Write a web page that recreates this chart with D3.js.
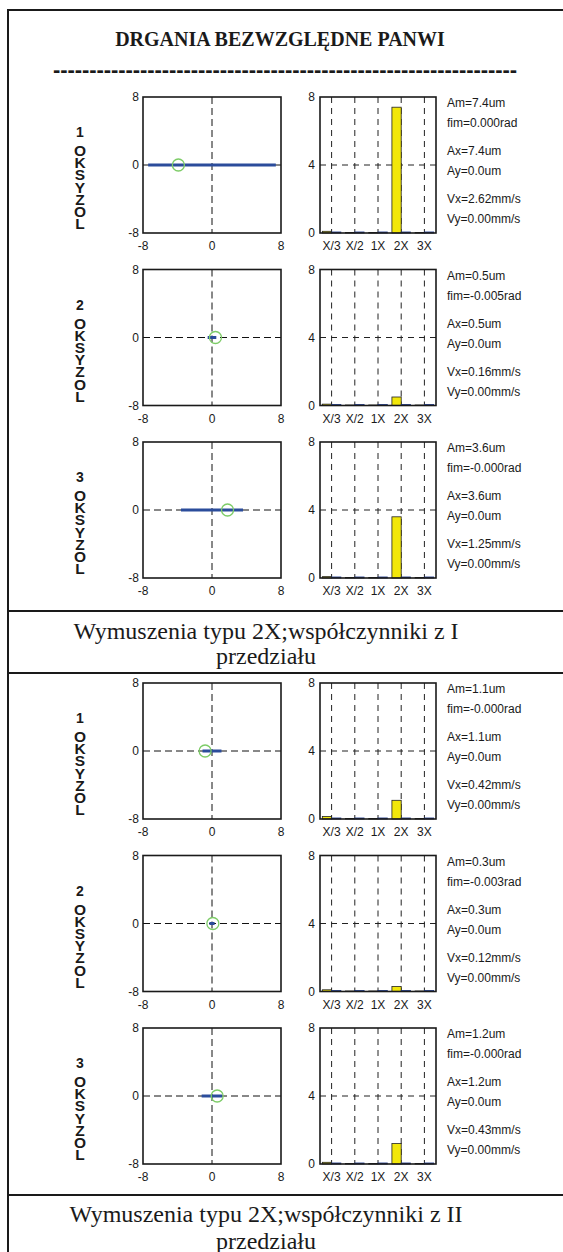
<!DOCTYPE html>
<html>
<head>
<meta charset="utf-8">
<script src="https://cdn.jsdelivr.net/npm/d3@7"></script>
<style>
  body { margin: 0; background: #fff; }
  svg { display: block; }
</style>
</head>
<body>
<script>
// ---------------- DATA ----------------
const title = "DRGANIA BEZWZGLĘDNE PANWI";
const rowNumbers = ["1", "2", "3"];
const labelWord = "OKSYZOL";
const harmonics = ["X/3", "X/2", "1X", "2X", "3X"];
const scatterTicks = [-8, 0, 8];
const barTicks = [0, 4, 8];
const captions = [
  ["Wymuszenia typu 2X;współczynniki z I", "przedziału"],
  ["Wymuszenia typu 2X;współczynniki z II", "przedziału"]
];
// one entry per panel row (section 1 rows 1-3, section 2 rows 1-3)
const orbitAx = [7.4, 0.5, 3.6, 1.1, 0.3, 1.2];
const orbitAy = [0.0, 0.0, 0.0, 0.0, 0.0, 0.0];
const markerX = [-3.9, 0.4, 1.8, -0.8, 0.1, 0.6];
const markerY = [0.0, 0.0, 0.0, 0.0, 0.0, 0.0];
const barXAmp = [
  [0.10, 0.03, 0.03, 7.4, 0.03],
  [0.08, 0.03, 0.03, 0.5, 0.03],
  [0.08, 0.03, 0.03, 3.6, 0.03],
  [0.15, 0.03, 0.03, 1.1, 0.03],
  [0.10, 0.03, 0.03, 0.3, 0.03],
  [0.10, 0.03, 0.03, 1.2, 0.03]
];
const barYAmp = [
  [0.06, 0.06, 0.06, 0.06, 0.06],
  [0.06, 0.06, 0.06, 0.06, 0.06],
  [0.06, 0.06, 0.06, 0.06, 0.06],
  [0.06, 0.06, 0.06, 0.06, 0.06],
  [0.06, 0.06, 0.06, 0.06, 0.06],
  [0.06, 0.06, 0.06, 0.06, 0.06]
];
const amText = ["7.4", "0.5", "3.6", "1.1", "0.3", "1.2"];
const fimText = ["0.000", "-0.005", "-0.000", "-0.000", "-0.003", "-0.000"];
const axText = ["7.4", "0.5", "3.6", "1.1", "0.3", "1.2"];
const ayText = ["0.0", "0.0", "0.0", "0.0", "0.0", "0.0"];
const vxText = ["2.62", "0.16", "1.25", "0.42", "0.12", "0.43"];
const vyText = ["0.00", "0.00", "0.00", "0.00", "0.00", "0.00"];

// ---------------- LAYOUT ----------------
const W = 563, H = 1252;
const sectionTops = [97, 683];
const rowPitch = 172.5;
const boxH = 136;
const scL = 143, scW = 138;
const brL = 320, brW = 116;
const txtX = 447;
const labelX = 80;
const letterPitch = 12.2;
const captionX = 266;
const captionBase = [[639, 664], [1222, 1249]];
const separators = [611, 673, 1195];
const sans = "'Liberation Sans', Arial, sans-serif";
const serif = "'Liberation Serif', 'Times New Roman', serif";
const ink = "#1a1a1a";

const svg = d3.select("body").append("svg").attr("width", W).attr("height", H);

// frame
svg.append("line").attr("x1", 8).attr("x2", 8).attr("y1", 10).attr("y2", H)
  .attr("stroke", ink).attr("stroke-width", 2);
svg.append("line").attr("x1", 7).attr("x2", W).attr("y1", 10).attr("y2", 10)
  .attr("stroke", ink).attr("stroke-width", 2);
separators.forEach(y => {
  svg.append("line").attr("x1", 8).attr("x2", W).attr("y1", y).attr("y2", y)
    .attr("stroke", ink).attr("stroke-width", 2);
});

// title
svg.append("text").attr("x", 280).attr("y", 46).attr("text-anchor", "middle")
  .attr("font-family", serif).attr("font-weight", "bold").attr("font-size", 20)
  .attr("fill", ink).text(title);
svg.append("text").attr("x", 285).attr("y", 77).attr("text-anchor", "middle")
  .attr("font-family", sans).attr("font-weight", "bold").attr("font-size", 22)
  .attr("fill", ink).attr("textLength", 464).attr("lengthAdjust", "spacing")
  .text("-".repeat(64));

// captions
captions.forEach((lines, s) => {
  lines.forEach((ln, i) => {
    svg.append("text").attr("x", captionX).attr("y", captionBase[s][i])
      .attr("text-anchor", "middle").attr("font-family", serif)
      .attr("font-size", 24).attr("fill", ink).text(ln);
  });
});

// panels
for (let p = 0; p < 6; p++) {
  const s = Math.floor(p / 3), r = p % 3;
  const top = sectionTops[s] + r * rowPitch;
  const bottom = top + boxH;
  const g = svg.append("g");

  // row number + vertical stacked word (single text, upright vertical writing)
  g.append("text").attr("x", labelX).attr("y", top + 40).attr("text-anchor", "middle")
    .attr("font-family", sans).attr("font-weight", "bold").attr("font-size", 14)
    .attr("fill", ink).text(rowNumbers[r]);
  const word = g.append("text").attr("x", labelX).attr("y", top + 45)
    .attr("font-family", sans).attr("font-weight", "bold").attr("font-size", 15.5)
    .attr("fill", ink)
    .style("writing-mode", "vertical-rl").style("text-orientation", "upright")
    .text(labelWord);
  const adv = word.node().getComputedTextLength() / labelWord.length;
  word.attr("letter-spacing", letterPitch - adv);

  // ---- scatter / orbit ----
  const x = d3.scaleLinear().domain([-8, 8]).range([scL, scL + scW]);
  const y = d3.scaleLinear().domain([-8, 8]).range([bottom, top]);
  g.append("line").attr("x1", x(0)).attr("x2", x(0)).attr("y1", top).attr("y2", bottom)
    .attr("stroke", "#111").attr("stroke-width", 1).attr("stroke-dasharray", "7,4");
  g.append("line").attr("x1", scL).attr("x2", scL + scW).attr("y1", y(0)).attr("y2", y(0))
    .attr("stroke", "#111").attr("stroke-width", 1).attr("stroke-dasharray", "7,4");
  const orbit = [[-orbitAx[p], -orbitAy[p]], [orbitAx[p], orbitAy[p]]];
  g.append("path").attr("d", d3.line().x(d => x(d[0])).y(d => y(d[1]))(orbit))
    .attr("stroke", "#2b4c9b").attr("stroke-width", 3).attr("fill", "none");
  g.append("circle").attr("cx", x(markerX[p])).attr("cy", y(markerY[p])).attr("r", 6)
    .attr("fill", "none").attr("stroke", "#7dcc67").attr("stroke-width", 1.3);
  g.append("rect").attr("x", scL).attr("y", top).attr("width", scW).attr("height", boxH)
    .attr("fill", "none").attr("stroke", ink).attr("stroke-width", 1.6);
  scatterTicks.forEach(t => {
    g.append("text").attr("x", scL - 4).attr("y", y(t) + 4).attr("text-anchor", "end")
      .attr("font-family", sans).attr("font-size", 12).attr("fill", ink).text(t);
    g.append("text").attr("x", x(t)).attr("y", bottom + 17).attr("text-anchor", "middle")
      .attr("font-family", sans).attr("font-size", 12).attr("fill", ink).text(t);
  });

  // ---- bar chart ----
  const bx = d3.scaleLinear().domain([0.5, 5.5]).range([brL, brL + brW]);
  const by = d3.scaleLinear().domain([0, 8]).range([bottom, top]);
  harmonics.forEach((h, i) => {
    g.append("line").attr("x1", bx(i + 1)).attr("x2", bx(i + 1)).attr("y1", top).attr("y2", bottom)
      .attr("stroke", "#222").attr("stroke-width", 1).attr("stroke-dasharray", "6,5");
  });
  g.append("line").attr("x1", brL).attr("x2", brL + brW).attr("y1", by(4)).attr("y2", by(4))
    .attr("stroke", "#222").attr("stroke-width", 1).attr("stroke-dasharray", "6,5");
  barXAmp[p].forEach((v, i) => {
    g.append("rect").attr("x", bx(i + 1 - 0.4)).attr("y", by(v))
      .attr("width", bx(i + 1) - bx(i + 1 - 0.4)).attr("height", by(0) - by(v))
      .attr("fill", "#f2e70a").attr("stroke", "#222").attr("stroke-width", 0.8);
  });
  barYAmp[p].forEach((v, i) => {
    g.append("rect").attr("x", bx(i + 1)).attr("y", by(v))
      .attr("width", bx(i + 1.4) - bx(i + 1)).attr("height", by(0) - by(v))
      .attr("fill", "#1f3a8a").attr("stroke", "#1f3a8a").attr("stroke-width", 0.8);
  });
  g.append("rect").attr("x", brL).attr("y", top).attr("width", brW).attr("height", boxH)
    .attr("fill", "none").attr("stroke", ink).attr("stroke-width", 1.6);
  barTicks.forEach(t => {
    g.append("text").attr("x", brL - 5).attr("y", by(t) + 4).attr("text-anchor", "end")
      .attr("font-family", sans).attr("font-size", 12).attr("fill", ink).text(t);
  });
  harmonics.forEach((h, i) => {
    g.append("text").attr("x", bx(i + 1)).attr("y", bottom + 17).attr("text-anchor", "middle")
      .attr("font-family", sans).attr("font-size", 12).attr("fill", ink).text(h);
  });

  // ---- annotation text ----
  const lines = [
    ["Am=" + amText[p] + "um", 10],
    ["fim=" + fimText[p] + "rad", 30],
    ["Ax=" + axText[p] + "um", 58],
    ["Ay=" + ayText[p] + "um", 78],
    ["Vx=" + vxText[p] + "mm/s", 106],
    ["Vy=" + vyText[p] + "mm/s", 126]
  ];
  lines.forEach(([t, dy]) => {
    g.append("text").attr("x", txtX).attr("y", top + dy).attr("font-family", sans)
      .attr("font-size", 12).attr("fill", ink).text(t);
  });
}
</script>
</body>
</html>
